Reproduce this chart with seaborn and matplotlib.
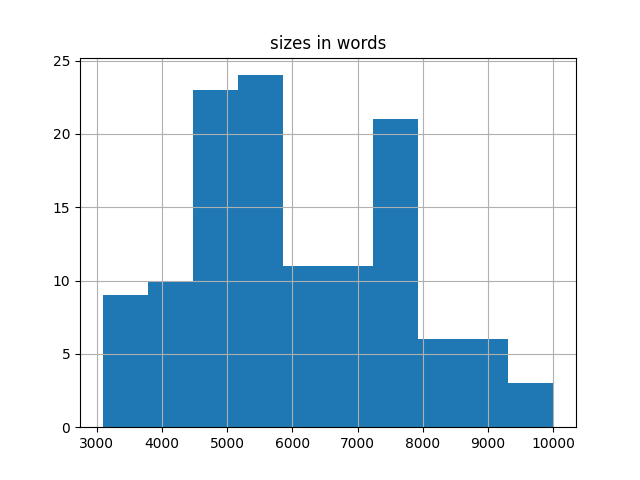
import numpy as np
import pandas as pd
import matplotlib
matplotlib.use("Agg")
import matplotlib.pyplot as plt
import seaborn as sns

# histogram: 10 equal bins from ~3092 to 10000 words
bin_edges = [3092, 3783, 4474, 5164, 5855, 6546, 7237, 7928, 8618, 9309, 10000]
counts = [9, 10, 23, 24, 11, 11, 21, 6, 6, 3]

centers = [(a + b) / 2 for a, b in zip(bin_edges[:-1], bin_edges[1:])]
df = pd.DataFrame({"size": centers, "n": counts})

fig, ax = plt.subplots(figsize=(6.4, 4.8), dpi=100)
sns.histplot(data=df, x="size", weights="n", bins=bin_edges, ax=ax,
             color="#1f77b4", alpha=1, linewidth=0)
ax.grid(True)
ax.set_title("sizes in words")
ax.set_xlabel("")
ax.set_ylabel("")
ax.set_ylim(0, 25.2)
plt.savefig("out.png")
